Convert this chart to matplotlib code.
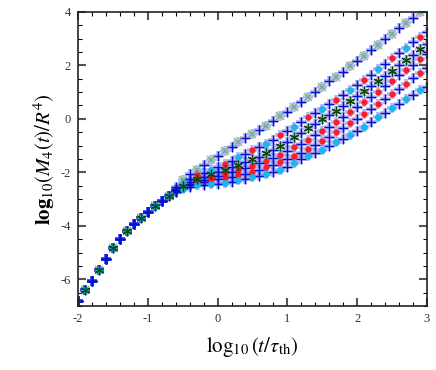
import numpy as np
import matplotlib
matplotlib.use("Agg")
import matplotlib.pyplot as plt
from matplotlib.ticker import MultipleLocator

plt.rcParams['font.family'] = ['Liberation Serif', 'DejaVu Serif']
plt.rcParams['mathtext.fontset'] = 'stix'
plt.rcParams['axes.unicode_minus'] = False

# log10(t/tau_th) sampling
x_vals = [round(-2.0 + 0.1 * i, 1) for i in range(51)]

# common early-time branch, x = -2.0 .. -0.7
early = [-6.82, -6.42, -6.05, -5.65, -5.25, -4.85, -4.5, -4.2, -3.95, -3.7,
         -3.48, -3.26, -3.06, -2.9]

# late branches, x = -0.6 .. 3.0
late_T = [-2.55, -2.3, -2.08, -1.9, -1.73, -1.55, -1.38, -1.2, -1.04, -0.88,
          -0.73, -0.58, -0.42, -0.26, -0.08, 0.1, 0.27, 0.45, 0.63, 0.81,
          1.0, 1.2, 1.4, 1.58, 1.76, 1.96, 2.16, 2.36, 2.56, 2.77,
          2.98, 3.18, 3.38, 3.58, 3.78, 3.98, 4.18]
late_A = [-2.62, -2.42, -2.25, -2.12, -2.01, -1.92, -1.82, -1.7, -1.57, -1.44,
          -1.31, -1.18, -1.07, -0.94, -0.79, -0.62, -0.46, -0.29, -0.12, 0.05,
          0.22, 0.38, 0.54, 0.70, 0.88, 1.06, 1.25, 1.45, 1.65, 1.86,
          2.06, 2.26, 2.46, 2.66, 2.86, 3.05, 3.25]
late_B = [-2.68, -2.5, -2.36, -2.25, -2.16, -2.08, -2.0, -1.9, -1.82, -1.73,
          -1.63, -1.52, -1.41, -1.29, -1.15, -1.0, -0.85, -0.68, -0.52, -0.35,
          -0.18, 0.0, 0.15, 0.3, 0.47, 0.66, 0.84, 1.03, 1.22, 1.41,
          1.6, 1.8, 2.0, 2.2, 2.4, 2.6, 2.8]
late_C = [-2.7, -2.55, -2.43, -2.34, -2.27, -2.2, -2.14, -2.07, -2.0, -1.93,
          -1.85, -1.76, -1.67, -1.57, -1.46, -1.34, -1.21, -1.07, -0.93, -0.78,
          -0.62, -0.46, -0.3, -0.12, 0.06, 0.25, 0.44, 0.63, 0.83, 1.02,
          1.22, 1.42, 1.62, 1.82, 2.02, 2.22, 2.42]
late_D = [-2.72, -2.58, -2.48, -2.41, -2.35, -2.3, -2.26, -2.22, -2.17, -2.11,
          -2.05, -1.98, -1.9, -1.82, -1.73, -1.63, -1.52, -1.4, -1.27, -1.13,
          -0.98, -0.83, -0.67, -0.51, -0.34, -0.17, 0.01, 0.19, 0.38, 0.56,
          0.75, 0.94, 1.13, 1.32, 1.52, 1.71, 1.9]
late_E = [-2.75, -2.62, -2.54, -2.49, -2.46, -2.44, -2.42, -2.39, -2.35, -2.3,
          -2.25, -2.19, -2.13, -2.07, -2.0, -1.92, -1.8, -1.65, -1.52, -1.40,
          -1.28, -1.15, -1.02, -0.88, -0.74, -0.6, -0.46, -0.3, -0.12, 0.05,
          0.22, 0.40, 0.57, 0.73, 0.9, 1.06, 1.2]

x_ticks = [-2, -1, 0, 1, 2, 3]
y_ticks = [-6, -4, -2, 0, 2, 4]

x = np.array(x_vals)
curves = {name: np.array(early + late) for name, late in
          [('T', late_T), ('A', late_A), ('B', late_B),
           ('C', late_C), ('D', late_D), ('E', late_E)]}

fig = plt.figure(figsize=(4.36, 3.70), dpi=100)
ax = fig.add_axes([0.179, 0.173, 0.800, 0.795])

idx = np.arange(len(x))
even = idx % 2 == 0
odd = ~even
q1 = idx % 4 == 1
q3 = idx % 4 == 3

# translucent thick plus on all curves
for name, y in curves.items():
    ax.plot(x, y, ls='none', marker='+', ms=6.5, mew=2.6, color='#4848e0', alpha=0.4)

# thin dark-blue plus on all curves
for name, y in curves.items():
    ax.plot(x[even], y[even], ls='none', marker='+', ms=6.5, mew=1.0, color='#0010d0')

# green x on top curve
yT = curves['T']
ax.plot(x[odd], yT[odd], ls='none', marker='x', ms=5.5, mew=1.1, color='#5fb35f', alpha=0.8)

# red dots
for name, sel in [('A', q1), ('C', odd), ('D', odd)]:
    y = curves[name]
    ax.plot(x[sel], y[sel], ls='none', marker='o', ms=4.5, mew=0, color='#ff1010', alpha=0.9)
# cyan dots
for name, sel in [('A', q3), ('E', odd)]:
    y = curves[name]
    ax.plot(x[sel], y[sel], ls='none', marker='o', ms=5,
            mew=0, color='#10b8f0', alpha=0.95)
# dark green asterisks on B
yB = curves['B']
ax.plot(x[odd], yB[odd], ls='none', marker=(6, 2, 0), ms=7, mew=0.9, color='#0a4a0a')

ax.set_xlim(-2, 3)
ax.set_ylim(-7, 4)
ax.set_xticks(x_ticks)
ax.set_yticks(y_ticks)
ax.xaxis.set_minor_locator(MultipleLocator(0.2))
ax.yaxis.set_minor_locator(MultipleLocator(0.5))
ax.tick_params(which='major', direction='in', length=6, width=1.5, color='#555555',
               top=True, right=True, labelsize=9, pad=5, labelcolor='#333333')
ax.tick_params(which='minor', direction='in', length=3, width=0.8, color='black',
               top=True, right=True)
for s in ax.spines.values():
    s.set_linewidth(1.2)
    s.set_color('#222222')

ax.set_xlabel(r'$\log_{10}(t/\tau_{\rm th})$', fontsize=15, labelpad=7)
ax.set_ylabel(r'$\mathbf{log}_{10}(\mathit{M}_4(t)/R^4)$', fontsize=15, labelpad=3)

fig.savefig('out.png', dpi=100)
